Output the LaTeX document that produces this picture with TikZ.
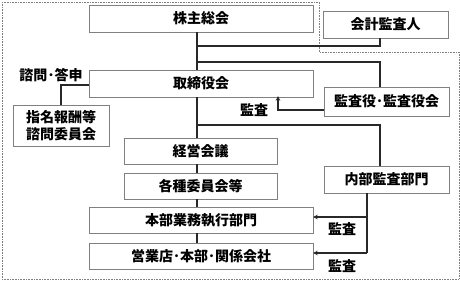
\documentclass[tikz,border=0pt]{standalone}
\usepackage{fontspec}
\setmainfont{Noto Sans CJK JP}
\usepackage{tikz}
\usetikzlibrary{arrows.meta}
\definecolor{framegray}{RGB}{128, 128, 128}
\definecolor{wiredark}{RGB}{40, 40, 40}

\begin{document}
\begin{tikzpicture}[x=1pt,y=-1pt,
  box/.style={draw=framegray,fill=white,inner sep=0pt,font=\bfseries\fontsize{14pt}{16pt}\selectfont,align=center},
  wire/.style={draw=wiredark,line width=1.3pt},
  tip/.style={draw=wiredark,line width=1.3pt,-{Stealth[length=4.5pt,width=4.5pt]}},
  lbl/.style={font=\bfseries\fontsize{14pt}{16pt}\selectfont,inner sep=0pt}]
\useasboundingbox (0,0) rectangle (460,282);
% outer frame
\draw[framegray,densely dotted,line width=0.6pt] (2,2) -- (319,2) -- (319,52) -- (459,52) -- (459,279) -- (2,279) -- cycle;
\coordinate (spine) at (197,0);
% boxes
\node[box,minimum width=224pt,minimum height=27pt] (kabu) at (201,18.5) {株主総会};
\node[box,minimum width=125pt,minimum height=27pt] (kaikei) at (385.5,24.5) {会計監査人};
\node[box,minimum width=224pt,minimum height=27pt] (tori) at (201,83.5) {取締役会};
\node[box,minimum width=96pt,minimum height=41pt,font=\bfseries\fontsize{14pt}{17pt}\selectfont] (shimei) at (61,125.5) {指名報酬等\\諮問委員会};
\node[box,minimum width=125pt,minimum height=29pt] (kansa) at (386.5,101.5) {監査役･監査役会};
\node[box,minimum width=153pt,minimum height=26pt] (keiei) at (200.5,151) {経営会議};
\node[box,minimum width=153pt,minimum height=26pt] (iin) at (200.5,186) {各種委員会等};
\node[box,minimum width=224pt,minimum height=26pt] (honbu) at (201,220) {本部業務執行部門};
\node[box,minimum width=224pt,minimum height=26pt] (eigyo) at (201,256) {営業店･本部･関係会社};
\node[box,minimum width=125pt,minimum height=27pt] (naibu) at (386.5,179.5) {内部監査部門};
% labels
\node[lbl] (shimon) at (51,75) {諮問･答申};
\node[lbl] (kansaA) at (254,110) {監査};
\node[lbl] (kansaB) at (342,229) {監査};
\node[lbl] (kansaC) at (342,266) {監査};
% connectors
\coordinate (kaikeiFoot) at (380,46);
\coordinate (kansaTop) at (380,62);
\coordinate (naibuTop) at (380,125);
\coordinate (bend) at (278,110);
\coordinate (naibuFoot) at (367,253);
\draw[wire] (kabu.south -| spine) -- (tori.north -| spine);
\draw[wire] (kaikei.south -| kaikeiFoot) -- (kaikeiFoot) -- (kaikeiFoot -| spine);
\draw[wire] (kansa.north -| kansaTop) -- (kansaTop) -- (kansaTop -| spine);
\draw[wire] (tori.west |- 0,85) -| (shimei.north);
\draw[tip] (kansa.west |- bend) -- (bend) -- ([yshift=1pt]tori.south -| bend);
\draw[wire] (tori.south -| spine) -- (keiei.north -| spine);
\draw[wire] (keiei.south -| spine) -- (iin.north -| spine);
\draw[wire] (iin.south -| spine) -- (honbu.north -| spine);
\draw[wire] (honbu.south -| spine) -- (eigyo.north -| spine);
\draw[wire] (naibuTop -| spine) -- (naibuTop) -- (naibu.north -| naibuTop);
\draw[wire] (naibu.south -| naibuFoot) -- (naibuFoot);
\draw[tip] (naibuFoot) -- (eigyo.east |- naibuFoot);
\draw[tip] (naibuFoot |- 0,217) -- (honbu.east |- 0,217);
\end{tikzpicture}
\end{document}
